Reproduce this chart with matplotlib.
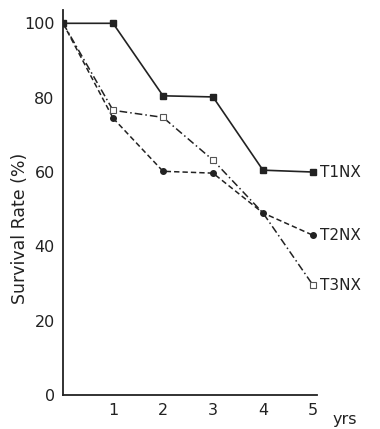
import matplotlib
matplotlib.use("Agg")
import matplotlib.pyplot as plt

years = [0, 1, 2, 3, 4, 5]
t1nx = [100, 100, 80.5, 80.2, 60.5, 60]
t2nx = [100, 74.5, 60.2, 59.7, 49, 43]
t3nx = [100, 76.6, 74.7, 63.2, 49, 29.6]
series_labels = ["T1NX", "T2NX", "T3NX"]
xticks = [1, 2, 3, 4, 5]
yticks = [0, 20, 40, 60, 80, 100]

plt.rcParams['font.family'] = ['DejaVu Sans']
fig = plt.figure(figsize=(3.8, 4.29), dpi=100)
ax = fig.add_axes([0.166, 0.079, 0.668, 0.897])

c = '#222222'
ax.plot(years, t1nx, color=c, lw=1.2, ls='-', marker='s', ms=4, mfc=c, mec=c)
ax.plot(years[1:], t2nx[1:], color=c, lw=1.1, ls=(0, (3.5, 2)), marker='o', ms=4, mfc=c, mec=c)
ax.plot(years[:2], t2nx[:2], color=c, lw=1.1, ls=(0, (3.5, 2)))
ax.plot(years, t3nx, color=c, lw=1.1, ls=(0, (5, 2, 1, 2)), marker='s', ms=4.5, mfc='white', mec='#555555', mew=0.8, markevery=[1, 2, 3, 5])

ends = [t1nx[-1], t2nx[-1], t3nx[-1]]
for lab, yv in zip(series_labels, ends):
    ax.text(5.15, yv, lab, fontsize=11, color=c, va='center', ha='left', clip_on=False)

ax.set_xlim(0, 5.08)
ax.set_ylim(0, 103.5)
ax.set_xticks(xticks)
ax.set_yticks(yticks)
ax.tick_params(length=0, labelsize=11.5, colors=c, pad=6)
ax.text(5.4, -6.5, "yrs", fontsize=11.5, color=c, ha='left', va='center', clip_on=False)
for s in ['top', 'right']:
    ax.spines[s].set_visible(False)
for s in ['left', 'bottom']:
    ax.spines[s].set_color(c)
    ax.spines[s].set_linewidth(1.3)
ax.set_ylabel("Survival Rate (%)", fontsize=12.5, color=c)
ax.yaxis.set_label_coords(-0.135, 0.434)

fig.savefig("out.png", dpi=100)
